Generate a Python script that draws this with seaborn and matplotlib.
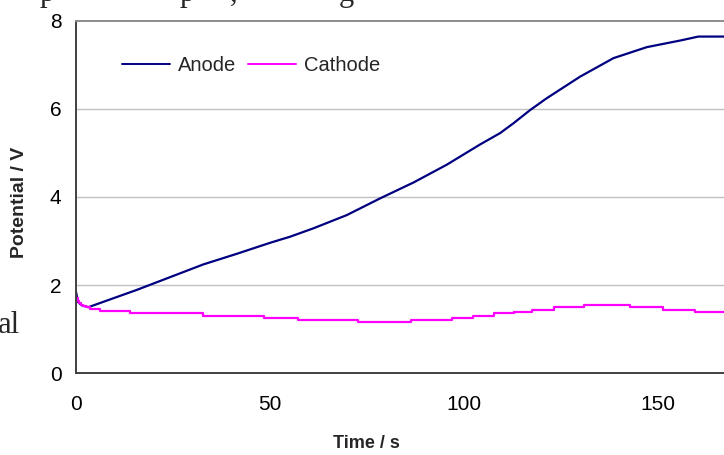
import matplotlib
matplotlib.use("Agg")
import matplotlib.pyplot as plt
import seaborn as sns
import pandas as pd

# ---- data ----
anode_t = [0, 0.5, 1.5, 3.2, 7.0, 15.6, 24.2, 32.8, 41.4, 50.0, 55.2, 61.2, 69.8,
           78.4, 87.0, 95.5, 104.1, 109.3, 112.7, 117.0, 121.3, 129.9, 138.5,
           147.1, 155.7, 160.4, 167.0]
anode_v = [1.85, 1.62, 1.54, 1.50, 1.62, 1.89, 2.18, 2.47, 2.71, 2.96, 3.10, 3.29, 3.59,
           3.97, 4.33, 4.73, 5.19, 5.45, 5.67, 5.97, 6.24, 6.73, 7.15,
           7.40, 7.55, 7.64, 7.64]

cathode_t = [0, 0.4, 0.8, 1.3, 1.9, 2.6, 3.6, 6.2, 13.9, 32.8, 48.5, 57.1, 72.8, 86.3, 96.8, 102.4,
             107.8, 112.9, 117.6, 123.3, 131.0, 142.8, 151.4, 159.5, 167.0]
cathode_v = [1.70, 1.65, 1.60, 1.56, 1.53, 1.50, 1.47, 1.41, 1.36, 1.31, 1.26, 1.21, 1.17, 1.21, 1.26, 1.31,
             1.36, 1.40, 1.44, 1.50, 1.54, 1.50, 1.44, 1.40, 1.40]

series_names = ["Anode", "Cathode"]
series_colors = ["#000080", "#FF00FF"]
y_ticks = [0, 2, 4, 6, 8]
x_ticks = [0, 50, 100, 150]

df = pd.concat([
    pd.DataFrame({"Time": anode_t, "Potential": anode_v, "Series": series_names[0]}),
    pd.DataFrame({"Time": cathode_t, "Potential": cathode_v, "Series": series_names[1]}),
])

sns.set_style("white")
plt.rcParams["font.family"] = ["Liberation Sans", "DejaVu Sans"]

W, H = 724, 455
fig = plt.figure(figsize=(W / 100, H / 100), dpi=100)
ax_left, ax_right, ax_top, ax_bot = 76, 724, 20.7, 373.3
ax = fig.add_axes([ax_left / W, 1 - ax_bot / H, (ax_right - ax_left) / W, (ax_bot - ax_top) / H])

sns.lineplot(data=df, x="Time", y="Potential", hue="Series", hue_order=series_names,
             palette=series_colors, linewidth=1.6, ax=ax, sort=False, estimator=None)
# cathode trace is visibly stair-stepped in the reference
ax.lines[1].set_drawstyle("steps-post")

ax.set_xlim(0, 167)
ax.set_ylim(0, 8)
ax.set_xticks(x_ticks)
ax.set_yticks(y_ticks)
ax.set_xlabel("")
ax.set_ylabel("")

for y in y_ticks[1:-1]:
    ax.axhline(y, color="#c0c0c0", linewidth=1.0, zorder=0)

ax.spines["right"].set_visible(False)
ax.spines["top"].set_color("#8c8c8c")
ax.spines["top"].set_linewidth(1.4)
for s in ("left", "bottom"):
    ax.spines[s].set_color("#404040")
    ax.spines[s].set_linewidth(1.4)

ax.tick_params(axis="both", which="major", labelsize=15, colors="#000000",
               direction="out", length=4.5, width=1.0)
ax.tick_params(axis="y", pad=6)
ax.tick_params(axis="x", pad=11)
for lbl in ax.get_xticklabels() + ax.get_yticklabels():
    lbl.set_color("black")

leg = ax.legend(loc="center left", bbox_to_anchor=(0.071, 0.874), ncol=2, frameon=False,
                fontsize=14.5, handlelength=2.4, handletextpad=0.4, columnspacing=0.55,
                borderpad=0, borderaxespad=0)
for line in leg.get_lines():
    line.set_linewidth(1.4)

fig.text(366 / W, 1 - 443 / H, "Time / s", ha="center", va="center",
         fontsize=13, fontweight="bold")
fig.text(20 / W, 1 - 202 / H, "Potential / V", ha="center", va="center",
         rotation=90, fontsize=14, fontweight="bold")

# surrounding document text fragments (cropped)
serif = ["Liberation Serif", "DejaVu Serif"]
fig.text(-2 / W, 1 - 333 / H, "al", ha="left", va="baseline", fontsize=22, family=serif)
for xpx, ch in [(40, "p"), (180, "p"), (230, ","), (339, "g")]:
    fig.text(xpx / W, 1 - 1 / H, ch, ha="left", va="baseline", fontsize=22, family=serif)

fig.savefig("out.png", dpi=100)
